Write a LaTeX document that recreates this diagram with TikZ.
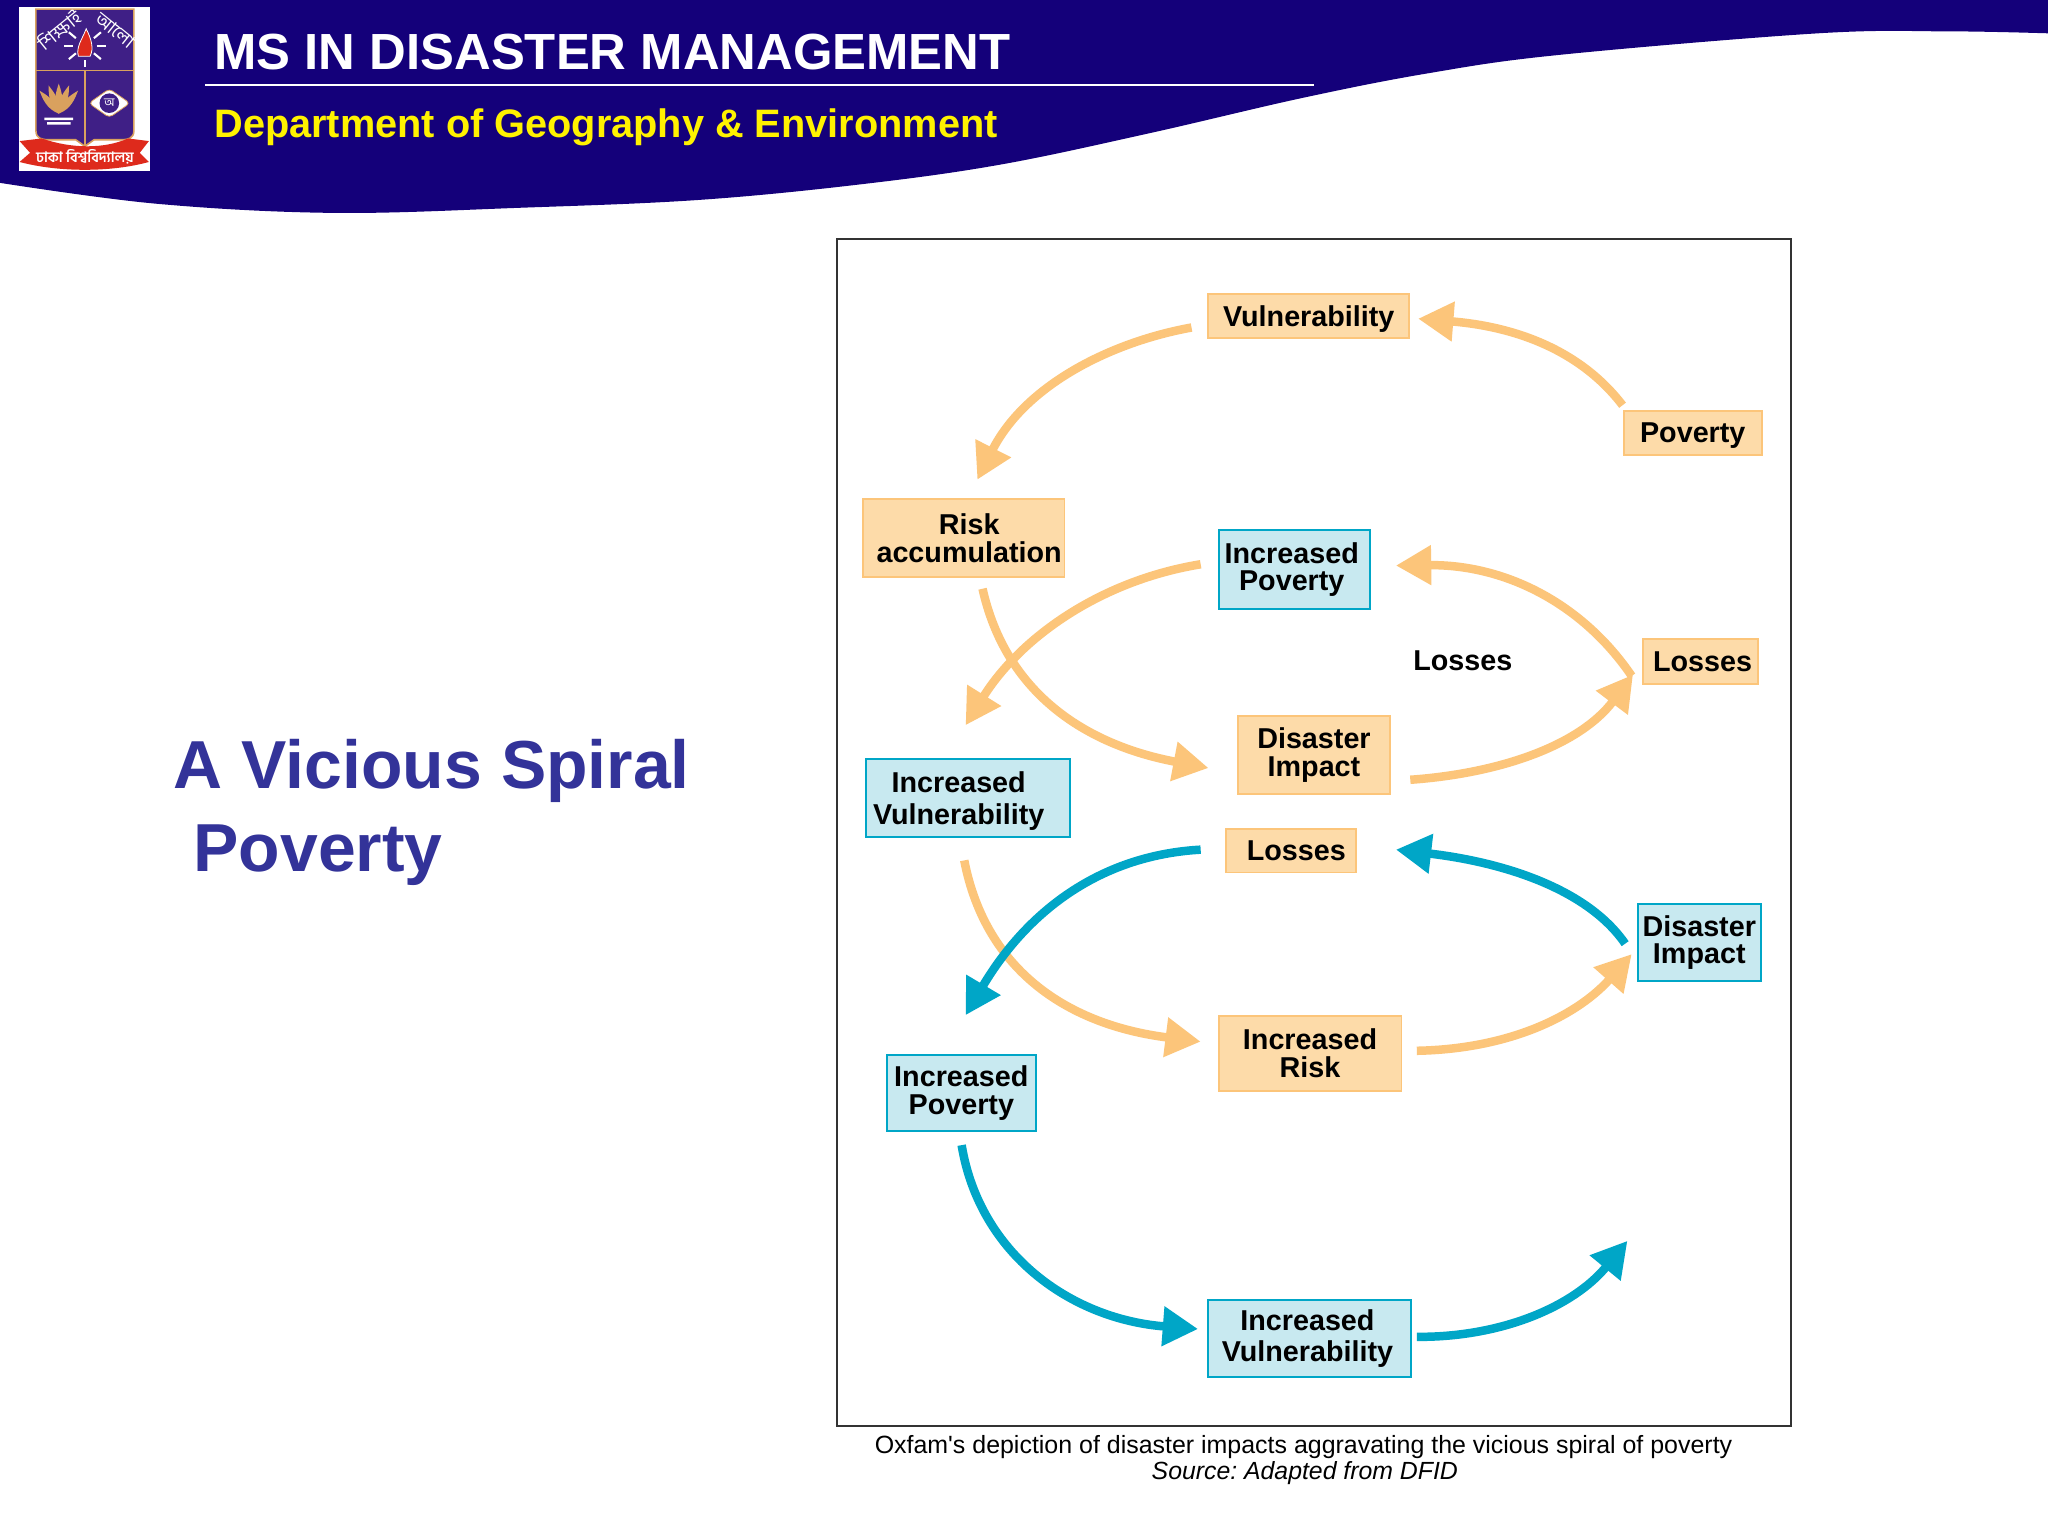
\documentclass[tikz,border=0pt]{standalone}
\usepackage{fontspec}
\setmainfont{Liberation Sans}
\newfontfamily\bengalifont[Script=Bengali]{Hind Siliguri}
\usetikzlibrary{arrows.meta}
\definecolor{headnavy}{HTML}{14007A}
\definecolor{titleblue}{HTML}{333399}
\definecolor{warmfill}{HTML}{FDDBA9}
\definecolor{warmline}{HTML}{FCC57A}
\definecolor{coolfill}{HTML}{C8E9F0}
\definecolor{coolline}{HTML}{00A6C7}
\definecolor{shieldpurple}{HTML}{3F1F86}
\definecolor{shieldgold}{HTML}{D9A15E}
\definecolor{ribbonred}{HTML}{DE2A1C}
\tikzset{
  warmbox/.style={draw=warmline,fill=warmfill,line width=1.5pt,inner sep=0pt,font=\fontsize{22}{21}\selectfont\bfseries,align=center},
  coolbox/.style={draw=coolline,fill=coolfill,line width=1.5pt,inner sep=0pt,font=\fontsize{22}{21}\selectfont\bfseries,align=center},
  warmflow/.style={->,draw=warmline,line width=6.5pt},
  coolflow/.style={->,draw=coolline,line width=6.5pt},
}
\begin{document}
\begin{tikzpicture}[x=1pt,y=-1pt,>={Triangle[length=27pt,width=29pt]}]
\useasboundingbox (0,0) rectangle (1568,1176);
\fill[white] (0,0) rectangle (1568,1176);
% header
\fill[headnavy] (0,0)--(0,140)--plot[smooth,tension=.6] coordinates {(0,140) (120,156) (256,163) (400,159) (536,153) (660,141) (766,126) (880,102) (997,75) (1094,56) (1194,42) (1392,25.5) (1491,24) (1568,25.5)}--(1568,0)--cycle;
\draw[white,line width=1pt] (157,65)--(1006,65);
\node[anchor=base west,inner sep=0pt,white,font=\fontsize{38.9}{39}\selectfont\bfseries] (headtitle) at (164,53) {MS IN DISASTER MANAGEMENT};
\node[anchor=base west,inner sep=0pt,yellow,font=\fontsize{30.4}{31}\selectfont\bfseries] (headdept) at (164,105) {Department of Geography \& Environment};
% logo
\fill[white] (14.5,5.5) rectangle (115,131);
\fill[shieldpurple,draw=shieldgold,line width=1.2pt] (27.5,7)--(102.5,7)--(102.5,100) .. controls (102.5,106) and (98,107) .. (93,107)--(72,107)--(65,112)--(58,107)--(37,107) .. controls (32,107) and (27.5,106) .. (27.5,100)--cycle;
\draw[shieldgold,line width=1.2pt] (27.5,54)--(102.5,54) (65,54)--(65,112);
\fill[ribbonred,draw=white,line width=.6pt] (60,43) .. controls (58,36) and (63,30) .. (66,22) .. controls (70,30) and (72,37) .. (69,43)--cycle;
\foreach \a in {0,40,140,180,220,320}
  \draw[white,line width=1.6pt] (65,35)++(\a:9)--++(\a:7);
\draw[white,line width=1.6pt] (65,46)--(65,51);
\node[white,rotate=39,inner sep=0pt,font=\bengalifont\fontsize{14}{14}\selectfont] (logotextleft) at (45,23) {শিক্ষাই};
\node[white,rotate=-39,inner sep=0pt,font=\bengalifont\fontsize{14}{14}\selectfont] (logotextright) at (88,23) {আলো};
% logo lotus
\foreach \a in {-40,-20,0,20,40}
  \fill[shieldgold,rotate around={\a:(45,87)}] (45,87) .. controls (40,78) and (43,70) .. (45,64) .. controls (47,70) and (50,78) .. (45,87)--cycle;
\fill[white] (34,90) rectangle (56,92) (36,93.5) rectangle (54,95.5);
% logo eye
\fill[white,draw=shieldgold,line width=.6pt,rounded corners=3pt] (68,79)--(83.7,68)--(99.5,79)--(83.7,90)--cycle;
\fill[shieldpurple] (83.7,79) circle (7.5);
\node[white,inner sep=0pt,font=\bengalifont\fontsize{9}{9}\selectfont] (logoeye) at (83.7,79) {অ};
% logo ribbon
\fill[ribbonred] (15,108)--(32,106) .. controls (55,114) and (80,114) .. (98,106)--(114,108)--(107,117)--(114,124) .. controls (85,132) and (45,132) .. (15,124)--(23,117)--cycle;
\node[white,inner sep=0pt,font=\bengalifont\fontsize{11}{11}\selectfont\bfseries] (logoribbon) at (65,120) {ঢাকা বিশ্ববিদ্যালয়};
% slide title
\node[anchor=base west,inner sep=0pt,titleblue,font=\fontsize{52}{52}\selectfont\bfseries] (spiralone) at (133,604) {A Vicious Spiral};
\node[anchor=base west,inner sep=0pt,titleblue,font=\fontsize{52}{52}\selectfont\bfseries] (spiraltwo) at (148,667) {Poverty};
% frame
\draw[black!80,line width=1.4pt] (641,183) rectangle (1371,1092);
\node[warmbox,minimum width=154pt,minimum height=34pt,text depth=0pt] (vuln) at (1002,242) {Vulnerability};
\node[warmbox,minimum width=106pt,minimum height=33pt,text depth=0pt] (poverty) at (1296,331.5) {Poverty};
\node[warmbox,minimum width=154pt,minimum height=60pt] (riskacc) at (738,412) {\hspace*{8pt}Risk\\\hspace*{8pt}accumulation};
\node[coolbox,minimum width=116pt,minimum height=60pt] (incpovone) at (991,436) {Increased\hspace*{4pt}\\Poverty\hspace*{4pt}};
\node[warmbox,minimum width=88pt,minimum height=35pt] (lossesone) at (1302,506.5) {\hspace*{3pt}Losses};
\node[inner sep=0pt,font=\fontsize{22}{22}\selectfont\bfseries] (lossesfree) at (1120,506) {Losses};
\node[warmbox,minimum width=116pt,minimum height=60pt] (impactone) at (1006,578) {Disaster\\Impact};
\node[coolbox,minimum width=156pt,minimum height=60pt,font=\fontsize{22}{24}\selectfont\bfseries,text depth=0pt] (incvulnone) at (741,611) {Increased\hspace*{14pt}\\Vulnerability\hspace*{14pt}};
\node[warmbox,minimum width=99pt,minimum height=33pt] (lossestwo) at (988.5,651.5) {\hspace*{8pt}Losses};
\node[coolbox,minimum width=94pt,minimum height=59pt] (impacttwo) at (1301,721.5) {Disaster\\Impact};
\node[warmbox,minimum width=140pt,minimum height=57pt] (incrisk) at (1003,806.5) {Increased\\Risk};
\node[coolbox,minimum width=114pt,minimum height=58pt] (incpovtwo) at (736,837) {Increased\\Poverty};
\node[coolbox,minimum width=155pt,minimum height=59pt,font=\fontsize{22}{24}\selectfont\bfseries] (incvulntwo) at (1002.5,1025) {Increased\hspace*{3pt}\\Vulnerability\hspace*{3pt}};
\coordinate (spiralend) at (1246,950);
% warm arrows
\draw[warmflow] ([shift={(0,-4)}]poverty.north west) .. controls (1210,268) and (1160,250) .. ([shift={(6,2)}]vuln.east);
\draw[warmflow] ([shift={(-12,-9)}]vuln.south west) .. controls (850,262) and (785,295) .. ([shift={(88,-14)}]riskacc.north west);
\draw[warmflow] ([shift={(92,8)}]riskacc.south west) .. controls (770,530) and (830,570) .. ([shift={(-22,10)}]impactone.west);
\draw[warmflow] ([shift={(15,19)}]impactone.east) .. controls (1150,592) and (1210,570) .. ([shift={(-7,10)}]lossesone.west);
\draw[warmflow] ([shift={(-8,11)}]lossesone.west) .. controls (1210,460) and (1150,432) .. ([shift={(19,-3)}]incpovone.east);
\draw[warmflow] ([shift={(-13,-4)}]incpovone.west) .. controls (840,445) and (780,490) .. ([shift={(77,-25)}]incvulnone.north west);
\draw[warmflow] ([shift={(76,17)}]incvulnone.south west) .. controls (755,745) and (820,785) .. ([shift={(-13,-9)}]incrisk.west);
\draw[warmflow] ([shift={(11,-2)}]incrisk.east) .. controls (1160,803) and (1210,775) .. ([shift={(-4,9)}]impacttwo.west);
% cool arrows
\draw[coolflow] ([shift={(-9,1)}]impacttwo.west) .. controls (1215,680) and (1150,660) .. ([shift={(30,-1)}]lossestwo.east);
\draw[coolflow] ([shift={(-19,-1)}]lossestwo.west) .. controls (840,655) and (785,700) .. ([shift={(61,-30)}]incpovtwo.north west);
\draw[coolflow] ([shift={(58,10)}]incpovtwo.south west) .. controls (750,960) and (820,1010) .. ([shift={(-7,-7.5)}]incvulntwo.west);
\draw[coolflow] ([shift={(4,-1.5)}]incvulntwo.east) .. controls (1150,1024) and (1205,1000) .. (spiralend);
% caption
\node[inner sep=0pt,font=\fontsize{19.1}{19}\selectfont] (captionone) at (998,1108) {Oxfam\textquotesingle s depiction of disaster impacts aggravating the vicious spiral of poverty};
\node[inner sep=0pt,font=\fontsize{19}{19}\selectfont\itshape] (captiontwo) at (999,1128) {Source:\ Adapted from DFID};
\end{tikzpicture}
\end{document}
